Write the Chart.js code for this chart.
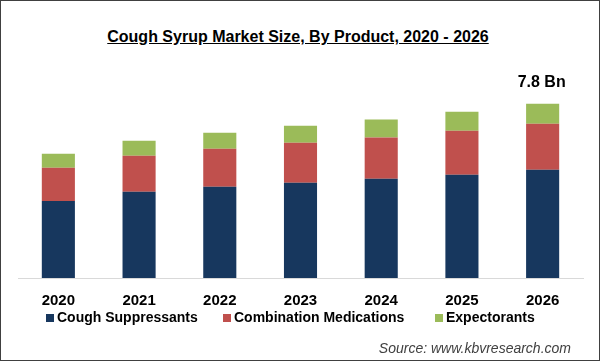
<!DOCTYPE html>
<html>
<head>
<meta charset="utf-8">
<script src="https://cdn.jsdelivr.net/npm/chart.js@4"></script>
<style>
  body { margin: 0; background: #fff; }
  #wrap {
    position: relative; width: 600px; height: 361px;
    border: 1px solid #404040; box-sizing: border-box; background: #fff;
    font-family: "Liberation Sans", Arial, sans-serif;
  }
  #title {
    position: absolute; left: 0; right: 4px; top: 27px; text-align: center;
    font-size: 16px; font-weight: bold; text-decoration: underline; color: #000;
  }
  #source {
    position: absolute; right: 28px; top: 339px;
    font-size: 14px; font-style: italic; color: #404040;
  }
  #box { position: absolute; left: 0; top: 0; width: 598px; height: 359px; }
  .item {
    position: absolute; top: 307px; height: 18px; line-height: 18px;
    font-size: 14px; font-weight: bold; color: #000; white-space: nowrap;
  }
  .item i {
    display: inline-block; width: 8px; height: 8px; margin-right: 3px;
    vertical-align: 0px;
  }
</style>
</head>
<body>
<div id="wrap">
  <div id="title">Cough Syrup Market Size, By Product, 2020 - 2026</div>
  <div id="box"><canvas id="chart"></canvas></div>
  <div id="legend"></div>
  <div id="source">Source: www.kbvresearch.com</div>
</div>
<script>
var years = ['2020', '2021', '2022', '2023', '2024', '2025', '2026'];
var coughSuppressants = [3.45, 3.86, 4.08, 4.26, 4.44, 4.62, 4.84];
var combinationMedications = [1.48, 1.61, 1.70, 1.79, 1.84, 1.97, 2.06];
var expectorants = [0.63, 0.67, 0.72, 0.76, 0.81, 0.85, 0.90];
var lastLabel = '7.8 Bn';

// label above the last bar
var topLabel = {
    id: 'topLabel',
    afterDatasetsDraw: function(chart) {
        var i = years.length - 1;
        var total = coughSuppressants[i] + combinationMedications[i] + expectorants[i];
        var x = chart.scales.x.getPixelForValue(i);
        var y = chart.scales.y.getPixelForValue(total);
        var ctx = chart.ctx;
        ctx.save();
        ctx.font = 'bold 16px "Liberation Sans", Arial, sans-serif';
        ctx.fillStyle = '#000';
        ctx.textAlign = 'center';
        ctx.textBaseline = 'middle';
        ctx.fillText(lastLabel, x - 1, y - 21);
        ctx.restore();
    }
};

window.onload = function() {
    var data = {
        labels: years,
        datasets: [{
            label: 'Cough Suppressants',
            data: coughSuppressants,
            backgroundColor: '#17375e'
        }, {
            label: 'Combination Medications',
            data: combinationMedications,
            backgroundColor: '#c0504d'
        }, {
            label: 'Expectorants',
            data: expectorants,
            backgroundColor: '#9bbb59'
        }]
    };

    var config = {
        type: 'bar',
        data: data,
        options: {
            responsive: true,
            maintainAspectRatio: false,
            animation: false,
            datasets: { bar: { barPercentage: 0.41, categoryPercentage: 1 } },
            layout: { padding: { top: 87, left: 17, right: 16, bottom: 44 } },
            plugins: {
                legend: { display: false },
                tooltip: { enabled: false }
            },
            scales: {
                x: {
                    stacked: true,
                    grid: { display: false },
                    border: { color: '#d9d9d9', width: 1 },
                    ticks: {
                        color: '#000',
                        padding: 6,
                        font: { family: '"Liberation Sans", Arial, sans-serif', size: 15, weight: 'bold' }
                    }
                },
                y: {
                    stacked: true,
                    display: false,
                    min: 0,
                    max: 8.5
                }
            }
        },
        plugins: [topLabel]
    };

    var chart = new Chart(document.getElementById('chart'), config);

    // legend as plain html, one item per dataset
    var lefts = [45, 222, 434];
    var legend = document.getElementById('legend');
    data.datasets.forEach(function(ds, i) {
        var el = document.createElement('div');
        el.className = 'item';
        el.style.left = lefts[i] + 'px';
        el.innerHTML = '<i style="background:' + ds.backgroundColor + '"></i>' + ds.label;
        legend.appendChild(el);
    });
};
</script>
</body>
</html>
